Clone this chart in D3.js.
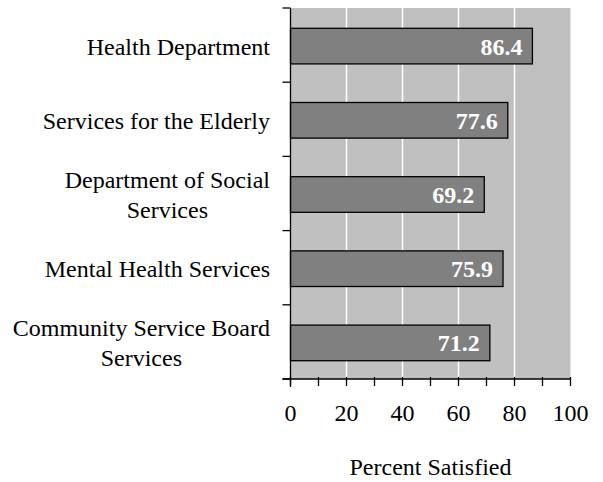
<!DOCTYPE html>
<html>
<head>
<meta charset="utf-8">
<script src="https://cdn.jsdelivr.net/npm/d3@7"></script>
<style>
  html, body { margin: 0; padding: 0; background: #fff; }
  svg { display: block; }
  text { font-family: "Liberation Serif", "Times New Roman", serif; }
</style>
</head>
<body>
<svg id="chart" width="603" height="482"></svg>
<script>
// Satisfaction with county human services (percent satisfied)
const categories = [
  ["Health Department"],
  ["Services for the Elderly"],
  ["Department of Social", "Services"],
  ["Mental Health Services"],
  ["Community Service Board", "Services"]
];
const values = [86.4, 77.6, 69.2, 75.9, 71.2];
const xTicks = [0, 20, 40, 60, 80, 100];
const xMinorTicks = [10, 30, 50, 70, 90];
const xTitle = "Percent Satisfied";

const svg = d3.select("#chart");
const plotLeft = 290.5, plotRight = 570.5, plotTop = 8, plotBottom = 379;

const x = d3.scaleLinear().domain([0, 100]).range([plotLeft, plotRight]);
const y = d3.scaleBand().domain(d3.range(values.length)).range([plotTop, plotBottom]).paddingInner(0.52).paddingOuter(0.26);

// plot background
svg.append("rect")
  .attr("x", plotLeft).attr("y", plotTop)
  .attr("width", plotRight - plotLeft).attr("height", plotBottom - plotTop)
  .attr("fill", "#c0c0c0");

// vertical gridlines
svg.append("g").selectAll("line")
  .data(xTicks.filter(t => t > 0 && t < 100))
  .join("line")
  .attr("x1", d => x(d)).attr("x2", d => x(d))
  .attr("y1", plotTop).attr("y2", plotBottom)
  .attr("stroke", "#ffffff").attr("stroke-width", 1.5);

// bars
svg.append("g").selectAll("rect")
  .data(values)
  .join("rect")
  .attr("x", x(0))
  .attr("y", (d, i) => y(i) + 1)
  .attr("width", d => x(d) - x(0))
  .attr("height", y.bandwidth())
  .attr("fill", "#808080")
  .attr("stroke", "#000").attr("stroke-width", 1.3);

// value labels inside bars
svg.append("g").selectAll("text")
  .data(values)
  .join("text")
  .attr("x", d => x(d) - 10)
  .attr("y", (d, i) => y(i) + 1 + y.bandwidth() / 2)
  .attr("dy", "0.35em")
  .attr("text-anchor", "end")
  .attr("font-size", 24)
  .attr("font-weight", "bold")
  .attr("fill", "#ffffff")
  .text(d => d.toFixed(1));

// left axis line with ticks at category boundaries
const yAxis = svg.append("g");
yAxis.append("line")
  .attr("x1", plotLeft).attr("x2", plotLeft).attr("y1", plotTop).attr("y2", plotBottom + 8)
  .attr("stroke", "#000").attr("stroke-width", 1.3);
const step = (plotBottom - plotTop) / values.length;
yAxis.selectAll("line.tick")
  .data(d3.range(values.length + 1))
  .join("line").attr("class", "tick")
  .attr("x1", plotLeft - 8).attr("x2", plotLeft)
  .attr("y1", i => plotTop + i * step).attr("y2", i => plotTop + i * step)
  .attr("stroke", "#000").attr("stroke-width", 1.3);

// category labels (multi-line labels centred against each other, block right aligned)
const labelRight = 270;
const lineGap = 30;
categories.forEach((lines, i) => {
  const cy = y(i) + 1 + y.bandwidth() / 2;
  const g = svg.append("g");
  const texts = lines.map((ln, k) => g.append("text")
    .attr("font-size", 24)
    .attr("fill", "#000")
    .attr("y", cy + (k - (lines.length - 1) / 2) * lineGap)
    .attr("dy", "0.35em")
    .text(ln));
  const maxW = d3.max(texts, t => t.node().getComputedTextLength());
  texts.forEach(t => t.attr("x", labelRight - maxW / 2).attr("text-anchor", "middle"));
});

// bottom axis
const xAxis = svg.append("g");
xAxis.append("line")
  .attr("x1", plotLeft - 8).attr("x2", plotRight).attr("y1", plotBottom).attr("y2", plotBottom)
  .attr("stroke", "#000").attr("stroke-width", 1.3);
xAxis.selectAll("line.tick")
  .data(xTicks.concat(xMinorTicks))
  .join("line").attr("class", "tick")
  .attr("x1", d => x(d)).attr("x2", d => x(d))
  .attr("y1", plotBottom - 2).attr("y2", plotBottom + 7)
  .attr("stroke", "#000").attr("stroke-width", 1.3);
xAxis.selectAll("text")
  .data(xTicks)
  .join("text")
  .attr("x", d => x(d))
  .attr("y", 421)
  .attr("text-anchor", "middle")
  .attr("font-size", 24)
  .attr("fill", "#000")
  .text(d => d);

// axis title
svg.append("text")
  .attr("x", (plotLeft + plotRight) / 2)
  .attr("y", 475)
  .attr("text-anchor", "middle")
  .attr("font-size", 24)
  .attr("fill", "#000")
  .text(xTitle);
</script>
</body>
</html>
